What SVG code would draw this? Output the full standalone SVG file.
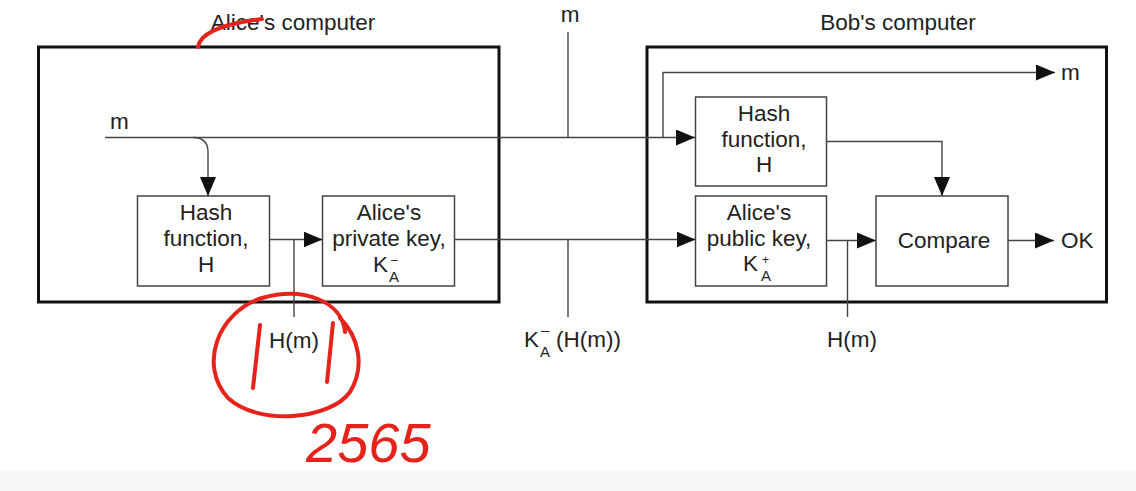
<svg xmlns="http://www.w3.org/2000/svg" width="1136" height="491" viewBox="0 0 1136 491">
<style>
text{font-family:"Liberation Sans",Arial,sans-serif;fill:#222}
.t{font-size:22.5px;text-anchor:middle}
.title{font-size:22.5px;text-anchor:middle}
.sm{font-size:15px}
.sup{font-size:12px}
.box{fill:#fff;stroke:#444;stroke-width:1.5}
.outer{fill:none;stroke:#111;stroke-width:3}
.ln{fill:none;stroke:#444;stroke-width:1.4}
.red{fill:none;stroke:#e5231b;stroke-width:4;stroke-linecap:round;stroke-linejoin:round}
</style>
<defs>
<marker id="ah" markerUnits="userSpaceOnUse" markerWidth="20" markerHeight="16" refX="19" refY="8" orient="auto">
<path d="M0,0 L19,8 L0,16 Z" fill="#111"/>
</marker>
</defs>
<rect width="1136" height="491" fill="#fff"/>
<rect x="0" y="470" width="1136" height="21" fill="#f7f7f7"/>

<g id="alice-computer">
<rect class="outer" x="38.5" y="47" width="460.5" height="255"/>
<text class="title" x="293" y="30">Alice's computer</text>
</g>
<g id="bob-computer">
<rect class="outer" x="647" y="47" width="459.5" height="255"/>
<text class="title" x="898" y="30">Bob's computer</text>
</g>

<g id="alice-hash">
<rect class="box" x="137.5" y="196" width="132" height="90"/>
<text class="t" x="206" y="220">Hash</text>
<text class="t" x="206" y="246">function,</text>
<text class="t" x="206" y="272">H</text>
</g>
<g id="alice-private-key">
<rect class="box" x="322.5" y="196" width="132" height="90"/>
<text class="t" x="389" y="220">Alice's</text>
<text class="t" x="389" y="246">private key,</text>
<text x="373" y="272" style="font-size:22.5px">K</text>
<text class="sup" x="391" y="264">–</text>
<text class="sm" x="389" y="282">A</text>
</g>
<g id="bob-hash">
<rect class="box" x="695.5" y="97" width="131" height="89"/>
<text class="t" x="764" y="121">Hash</text>
<text class="t" x="764" y="147">function,</text>
<text class="t" x="764" y="172">H</text>
</g>
<g id="bob-public-key">
<rect class="box" x="695.5" y="196" width="131" height="90"/>
<text class="t" x="759" y="220">Alice's</text>
<text class="t" x="759" y="246">public key,</text>
<text x="743" y="271" style="font-size:22.5px">K</text>
<text class="sup" x="762" y="264">+</text>
<text class="sm" x="761" y="281">A</text>
</g>
<g id="compare">
<rect class="box" x="876" y="196" width="132" height="90"/>
<text class="t" x="944" y="248">Compare</text>
</g>

<g id="connectors">
<path class="ln" d="M105,137.5 H695" marker-end="url(#ah)"/>
<path class="ln" d="M193,137.5 Q208,137.5 208,152 V196" marker-end="url(#ah)"/>
<path class="ln" d="M568,32 V137.5"/>
<path class="ln" d="M663,137.5 V72.5 H1055" marker-end="url(#ah)"/>
<path class="ln" d="M269.5,239.5 H322.5" marker-end="url(#ah)"/>
<path class="ln" d="M294,239.5 V317"/>
<path class="ln" d="M454.5,239.5 H695.5" marker-end="url(#ah)"/>
<path class="ln" d="M568,239.5 V317"/>
<path class="ln" d="M826.5,141.5 H942 V196" marker-end="url(#ah)"/>
<path class="ln" d="M826.5,240.5 H876" marker-end="url(#ah)"/>
<path class="ln" d="M847.5,240.5 V317"/>
<path class="ln" d="M1008,240.5 H1054" marker-end="url(#ah)"/>
</g>

<g id="labels">
<text x="110" y="129" style="font-size:22.5px">m</text>
<text x="570" y="22" style="font-size:22.5px;text-anchor:middle">m</text>
<text x="1061" y="80" style="font-size:22.5px">m</text>
<text x="1061" y="248" style="font-size:22.5px">OK</text>
<text x="294" y="348" style="font-size:22.5px;text-anchor:middle">H(m)</text>
<text x="852" y="347" style="font-size:22.5px;text-anchor:middle">H(m)</text>
<text x="524" y="347" style="font-size:22.5px">K</text>
<text class="sm" x="541" y="335">–</text>
<text class="sm" x="540" y="357">A</text>
<text x="556" y="347" style="font-size:22.5px">(H(m))</text>
</g>

<g id="annotations">
<path class="red" d="M198,47 C200,35 215,25 262,19"/>
<path class="red" d="M345,332 C342,302 305,286 262,298 C218,312 198,365 228,398 C258,426 330,420 350,392 C366,366 358,336 340,318"/>
<path class="red" d="M260,325 L253,388"/>
<path class="red" d="M333,323 L327,382"/>
<text x="306" y="462" style="font-size:56px;font-style:italic;fill:#e5231b">2565</text>
</g>
</svg>
